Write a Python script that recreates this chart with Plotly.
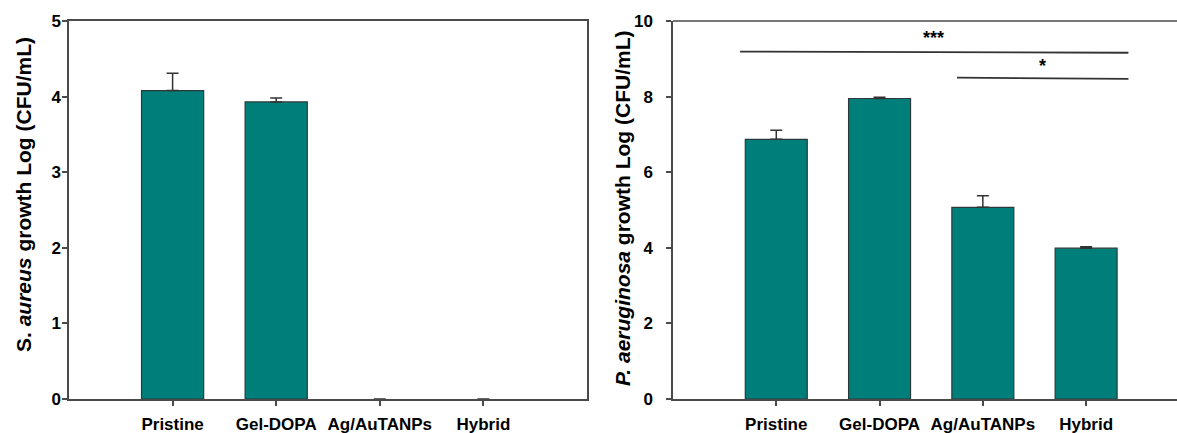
import plotly.graph_objects as go

categories = ["Pristine", "Gel-DOPA", "Ag/AuTANPs", "Hybrid"]
sa_values = [4.08, 3.93, 0, 0]
sa_errors = [0.23, 0.05, 0, 0]
pa_values = [6.87, 7.95, 5.07, 3.99]
pa_errors = [0.24, 0.03, 0.31, 0.04]

W, H = 1177, 433
BAR = "#007F7A"
EDGE = "#2a3a3a"
AX = "#4a4a4a"
FONT = "Liberation Sans"


def px(v):
    return v / W


def py(v):
    return 1 - v / H


fig = go.Figure()


def add_bars(vals, errs, xa, ya):
    fig.add_trace(go.Bar(
        x=categories, y=vals, width=0.6,
        marker=dict(color=BAR,
                    line=dict(color=EDGE,
                              width=[1.2 if v > 0 else 0 for v in vals])),
        error_y=dict(type="data", symmetric=False,
                     array=[e if e > 0 else None for e in errs],
                     arrayminus=[0 if e > 0 else None for e in errs],
                     color="#333333", thickness=1.5, width=6),
        xaxis=xa, yaxis=ya, showlegend=False, hoverinfo="skip"))


add_bars(sa_values, sa_errors, "x", "y")
add_bars(pa_values, pa_errors, "x2", "y2")

ydom = [py(399), py(21)]
tickfont = dict(family=FONT, size=17, color="black", weight="bold")

common_x = dict(type="category", showline=True, linecolor=AX, linewidth=1.5,
                ticks="outside", ticklen=5, tickcolor=AX, tickwidth=1.5,
                tickfont=tickfont, showgrid=False, zeroline=False,
                automargin=False, ticklabelstandoff=4)
common_y = dict(showline=True, linecolor=AX, linewidth=1.5,
                ticks="outside", ticklen=5, tickcolor=AX, tickwidth=1.5,
                tickfont=tickfont, showgrid=False, zeroline=False,
                automargin=False)

fig.update_layout(
    width=W, height=H,
    margin=dict(l=0, r=0, t=0, b=0),
    paper_bgcolor="white", plot_bgcolor="white",
    xaxis=dict(domain=[px(69), px(587)], range=[-1, 4], mirror=True,
               anchor="y", **common_x),
    yaxis=dict(domain=ydom, range=[0, 5], dtick=1, mirror=True,
               anchor="x", ticklabelstandoff=-2, **common_y),
    xaxis2=dict(domain=[px(673), 1.0], range=[-1, 3.88], mirror=False,
                anchor="y2", **common_x),
    yaxis2=dict(domain=ydom, range=[0, 10], dtick=2, mirror=False,
                anchor="x2", ticklabelstandoff=10, **common_y),
)

# top frame line of the right panel (the right edge is cut off by the image)
fig.add_shape(type="line", xref="x2 domain", yref="y2 domain",
              x0=0, x1=1, y0=1, y1=1, line=dict(color=AX, width=1.5))

# significance lines (right panel)
fig.add_shape(type="line", xref="x2", yref="y2", x0=-0.35, x1=3.41,
              y0=9.19, y1=9.16, line=dict(color="#333333", width=1.8))
fig.add_shape(type="line", xref="x2", yref="y2", x0=1.75, x1=3.41,
              y0=8.50, y1=8.47, line=dict(color="#333333", width=1.8))
fig.add_annotation(x=1.52, y=9.55, xref="x2", yref="y2", text="<b>***</b>",
                   showarrow=False, font=dict(family=FONT, size=18, color="black"))
fig.add_annotation(x=2.58, y=8.80, xref="x2", yref="y2", text="<b>*</b>",
                   showarrow=False, font=dict(family=FONT, size=18, color="black"))

# y-axis titles
titlefont = dict(family=FONT, size=21, color="black")
fig.add_annotation(x=px(23), y=py(195), xref="paper", yref="paper",
                   text="<b>S. <i>aureus</i> growth Log (CFU/mL)</b>",
                   textangle=-90, showarrow=False, xanchor="center",
                   yanchor="middle", font=titlefont)
fig.add_annotation(x=px(623), y=py(209), xref="paper", yref="paper",
                   text="<b><i>P. aeruginosa</i> growth Log (CFU/mL)</b>",
                   textangle=-90, showarrow=False, xanchor="center",
                   yanchor="middle", font=titlefont)

# remove the default 8px page margin so the 1177x433 figure fills the window
fig.write_html("out.html",
               config={"displayModeBar": False},
               post_script="document.body.style.margin='0';"
                           "document.body.style.overflow='hidden';")
